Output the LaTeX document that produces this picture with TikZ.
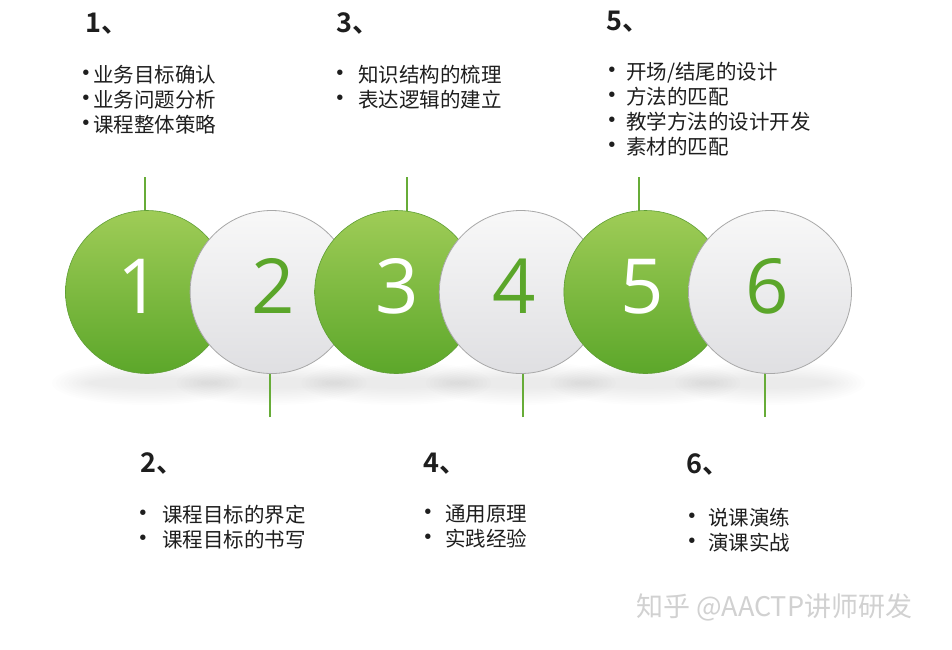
\documentclass[tikz,border=0pt]{standalone}
\usepackage{fontspec}
\setmainfont{Noto Sans CJK SC}
\newfontfamily\cjk{Noto Sans CJK SC}
\newfontfamily\cjkbold{Noto Sans CJK SC Bold}
\newfontfamily\digitfont{Open Sans}
\definecolor{gtop}{HTML}{9FCC57}
\definecolor{gbot}{HTML}{5CA72A}
\definecolor{gline}{HTML}{67AC38}
\definecolor{gedge}{HTML}{5E9E34}
\definecolor{wtop}{HTML}{F8F8F8}
\definecolor{wbot}{HTML}{DFDFE2}
\definecolor{wline}{HTML}{A8A8A8}
\definecolor{digitg}{HTML}{5BA62A}
\definecolor{txt}{HTML}{1E1E1E}
\newcommand\bul[1]{\rlap{\makebox[0pt][c]{\scalebox{1.25}{•}}}\hspace{#1}}
\begin{document}
\begin{tikzpicture}[x=1pt,y=-1pt,
  gcirc/.style={circle, minimum size=163pt, inner sep=0pt, draw=gedge, line width=0.6pt, top color=gtop, bottom color=gbot},
  wcirc/.style={circle, minimum size=163pt, inner sep=0pt, draw=wline, line width=0.8pt, top color=wtop, bottom color=wbot},
  dgw/.style={anchor=base, inner sep=0pt, font=\digitfont\fontsize{76}{80}\selectfont, text=white},
  dgg/.style={anchor=base, inner sep=0pt, font=\digitfont\fontsize{76}{80}\selectfont, text=digitg},
  tick/.style={draw=gline, line width=2.6pt},
  hd/.style={anchor=base west, inner sep=0pt, font=\cjkbold\fontsize{27}{30}\selectfont, text=txt},
  lst/.style={anchor=north west, inner sep=0pt, align=left, font=\cjk\fontsize{20.5}{25}\selectfont, text=txt},
  wm/.style={anchor=west, inner sep=0pt, font=\cjk\fontsize{27}{29}\selectfont, text=black!18}
]
\useasboundingbox[fill=white] (0,0) rectangle (952,649);

% soft shadows under the circles
\foreach \cx in {147,271.6,396.2,520.8,645.4,770}{
  \foreach \i in {1,...,10}{
    \fill[black, opacity=0.008] (\cx,383) ellipse [x radius={55pt+\i*4pt}, y radius={4pt+\i*1.8pt}];
  }
}

% ticks
\coordinate (u1) at (145,177);
\coordinate (u3) at (407,177);
\coordinate (u5) at (639,177);
\coordinate (l2) at (270,417);
\coordinate (l4) at (523,417);
\coordinate (l6) at (765,417);
\path (147,292) coordinate (p1) (271.6,292) coordinate (p2) (396.2,292) coordinate (p3)
      (520.8,292) coordinate (p4) (645.4,292) coordinate (p5) (770,292) coordinate (p6);
\draw[tick] (u1) -- (u1 |- p1);
\draw[tick] (u3) -- (u3 |- p3);
\draw[tick] (u5) -- (u5 |- p5);
\draw[tick] (l2) -- (l2 |- p2);
\draw[tick] (l4) -- (l4 |- p4);
\draw[tick] (l6) -- (l6 |- p6);

% circles
\node[gcirc] (c1) at (p1) {};
\node[wcirc] (c2) at (p2) {};
\node[gcirc] (c3) at (p3) {};
\node[wcirc] (c4) at (p4) {};
\node[gcirc] (c5) at (p5) {};
\node[wcirc] (c6) at (p6) {};

% digits
\node[dgw] (d1) at (139,313) {1};
\node[dgg] (d2) at (273,313) {2};
\node[dgw] (d3) at (397,313) {3};
\node[dgg] (d4) at (514,313) {4};
\node[dgw] (d5) at (642,313) {5};
\node[dgg] (d6) at (767,313) {6};

% headings
\node[hd] (h1) at (85,32) {1、};
\node[hd] (h3) at (336,32) {3、};
\node[hd] (h5) at (606,30) {5、};
\node[hd] (h2) at (140,472) {2、};
\node[hd] (h4) at (423,472) {4、};
\node[hd] (h6) at (686,473) {6、};

% lists
\node[lst] (t1) at (86,65) {\bul{7pt}业务目标确认\\\bul{7pt}业务问题分析\\\bul{7pt}课程整体策略};
\node[lst] (t3) at (340,65) {\bul{18pt}知识结构的梳理\\\bul{18pt}表达逻辑的建立};
\node[lst] (t5) at (612,62) {\bul{14pt}开场/结尾的设计\\\bul{14pt}方法的匹配\\\bul{14pt}教学方法的设计开发\\\bul{14pt}素材的匹配};
\node[lst] (t2) at (143,505) {\bul{19pt}课程目标的界定\\\bul{19pt}课程目标的书写};
\node[lst] (t4) at (428,505) {\bul{17pt}通用原理\\\bul{17pt}实践经验};
\node[lst] (t6) at (692,508) {\bul{16pt}说课演练\\\bul{16pt}演课实战};

% watermark
\node[wm] (w) at (636,607) {知乎 @AACTP讲师研发};
\end{tikzpicture}
\end{document}
